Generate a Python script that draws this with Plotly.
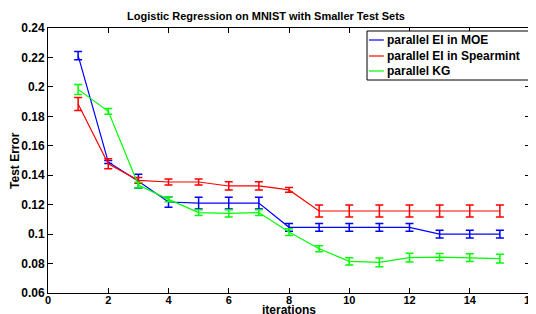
import plotly.graph_objects as go

iterations = list(range(1, 16))

moe_mean = [0.2212, 0.149, 0.1359, 0.1218, 0.1211, 0.1211, 0.1211, 0.1046, 0.1046, 0.1046, 0.1046, 0.1046, 0.1000, 0.1000, 0.1000]
moe_err = [0.0028, 0.0010, 0.0048, 0.0036, 0.0040, 0.0040, 0.0040, 0.0026, 0.0026, 0.0026, 0.0026, 0.0026, 0.0026, 0.0026, 0.0026]

spear_mean = [0.1884, 0.1478, 0.1365, 0.1354, 0.1354, 0.1327, 0.1327, 0.1300, 0.1157, 0.1157, 0.1157, 0.1157, 0.1157, 0.1157, 0.1157]
spear_err = [0.0044, 0.0034, 0.0020, 0.0020, 0.0020, 0.0028, 0.0028, 0.0016, 0.0040, 0.0040, 0.0040, 0.0040, 0.0040, 0.0040, 0.0040]

kg_mean = [0.1983, 0.1834, 0.1333, 0.1236, 0.1146, 0.1141, 0.1146, 0.1014, 0.0901, 0.0815, 0.0808, 0.0840, 0.0844, 0.0840, 0.0833]
kg_err = [0.0034, 0.0020, 0.0020, 0.0017, 0.0020, 0.0024, 0.0020, 0.0023, 0.0020, 0.0024, 0.0030, 0.0030, 0.0024, 0.0026, 0.0030]

series_names = ["parallel EI in MOE", "parallel EI in Spearmint", "parallel KG"]
series_colors = ["#0000ff", "#ff0000", "#00ff00"]
series_means = [moe_mean, spear_mean, kg_mean]
series_errs = [moe_err, spear_err, kg_err]

x_ticks = list(range(0, 17, 2))
y_ticks = [0.06, 0.08, 0.1, 0.12, 0.14, 0.16, 0.18, 0.2, 0.22, 0.24]
y_tick_labels = ["0.06", "0.08", "0.1", "0.12", "0.14", "0.16", "0.18", "0.2", "0.22", "0.24"]

title_text = "Logistic Regression on MNIST with Smaller Test Sets"
x_title = "iterations"
y_title = "Test Error"

FONT = "Liberation Sans"
W, H = 536, 314
ML, MR, MT, MB = 40, 8, 20, 29
PW, PH = W - ML - MR, H - MT - MB


def px(xp):
    return (xp - ML) / PW


def py(yp):
    return 1 - (yp - MT) / PH


fig = go.Figure()
for name, mean, err, color in zip(series_names, series_means, series_errs, series_colors):
    fig.add_trace(go.Scatter(
        x=iterations, y=mean, name=name, mode="lines", showlegend=False,
        line=dict(color=color, width=1.2),
        error_y=dict(type="data", array=err, visible=True, color=color, thickness=1.5, width=4),
    ))

axis_common = dict(
    showline=True, linecolor="black", linewidth=1, mirror="ticks",
    ticks="inside", ticklen=5, tickcolor="black", showgrid=False, zeroline=False,
)

shapes = []
annotations = []

# legend box (manual, to match the compact original legend)
shapes.append(dict(type="rect", xref="paper", yref="paper",
                   x0=px(363), x1=px(527), y0=py(72), y1=py(23),
                   line=dict(color="black", width=1), fillcolor="white", layer="above"))
row_y = [32, 48, 63]
for yy, name, color in zip(row_y, series_names, series_colors):
    shapes.append(dict(type="line", xref="paper", yref="paper",
                       x0=px(365), x1=px(380), y0=py(yy), y1=py(yy),
                       line=dict(color=color, width=1.2), layer="above"))
    annotations.append(dict(text=name, xref="paper", yref="paper", x=px(381), y=py(yy),
                            xanchor="left", yanchor="middle", showarrow=False,
                            font=dict(family=FONT, size=12, color="black", weight="bold")))

annotations.append(dict(text=x_title, xref="paper", yref="paper", x=0.5, y=py(H),
                        xanchor="center", yanchor="bottom", showarrow=False, yshift=3,
                        font=dict(family=FONT, size=12, color="black", weight="bold")))
annotations.append(dict(text=y_title, xref="paper", yref="paper", x=px(6), y=0.5,
                        xanchor="center", yanchor="middle", showarrow=False, textangle=-90,
                        font=dict(family=FONT, size=12, color="black", weight="bold")))

fig.update_layout(
    width=W, height=H,
    margin=dict(l=ML, r=MR, t=MT, b=MB),
    paper_bgcolor="white", plot_bgcolor="white",
    title=dict(text=title_text, x=258 / W, xanchor="center", y=1 - 8 / H, yanchor="middle",
               font=dict(family=FONT, size=11, color="black", weight="bold")),
    xaxis=dict(range=[0, 16], tickvals=x_ticks, ticklabelstandoff=-3,
               tickfont=dict(family=FONT, size=11, color="black", weight="bold"), **axis_common),
    yaxis=dict(range=[0.06, 0.24], tickvals=y_ticks, ticktext=y_tick_labels,
               tickfont=dict(family=FONT, size=12, color="black", weight="bold"), **axis_common),
    shapes=shapes,
    annotations=annotations,
    showlegend=False,
)

fig.write_html("out.html")
